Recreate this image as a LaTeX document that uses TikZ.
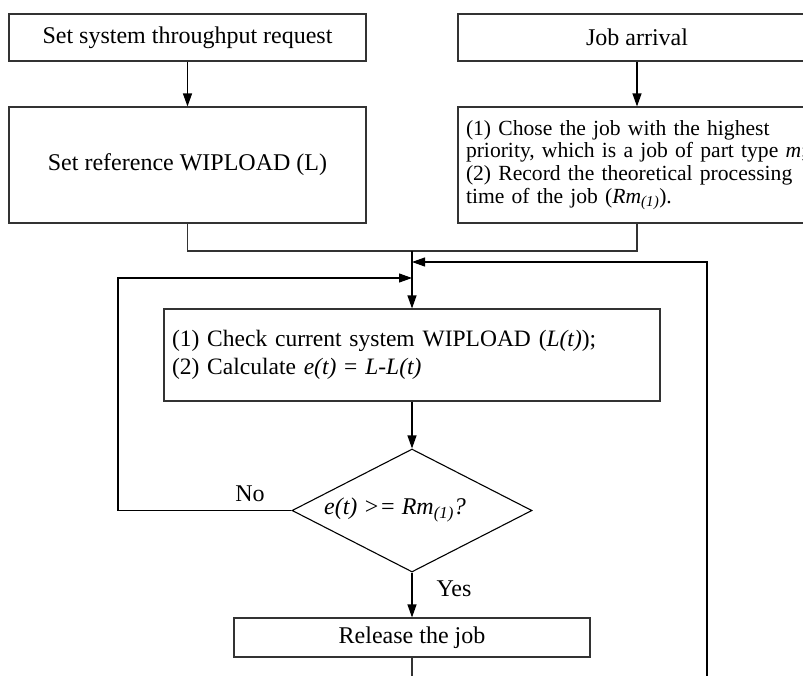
\documentclass[tikz,border=0pt]{standalone}
\usepackage{fontspec}
\setmainfont{Liberation Serif}
\usetikzlibrary{shapes.geometric,arrows.meta}

\begin{document}
\begin{tikzpicture}[x=1pt,y=-1pt,
  box/.style={draw=black!80, line width=1.1pt, rectangle, inner sep=0pt,
    font=\fontsize{24}{29}\selectfont},
  flow/.style={draw=black, line width=1.1pt, -{Triangle[length=13pt,width=9pt]}},
  link/.style={draw=black!80, line width=1.1pt},
  lbl/.style={font=\fontsize{24}{29}\selectfont, inner sep=0pt}
]
\useasboundingbox (0,0) rectangle (803,675);
\clip (0,0) rectangle (803,675);

% input boxes
\node[box, minimum width=357pt, minimum height=47pt] (req) at (187.5,37.5)
  {Set system throughput request};
\node[box, minimum width=357pt, minimum height=116pt] (ref) at (187.5,165)
  {Set reference WIPLOAD (L)};
\node[box, minimum width=358pt, minimum height=47pt] (arr) at (637,37.5)
  {Job arrival};
\node[box, minimum width=358pt, minimum height=116pt, text width=342pt,
  align=left, inner xsep=8pt, font=\fontsize{21.6}{22.6}\selectfont] (pick) at (637,165)
  {\mbox{(1) Chose the job with the highest}\\
   \mbox{priority, which is a job of part type \textit{m};}\\
   \mbox{(2) Record the theoretical processing}\\
   \mbox{time of the job (\textit{Rm}\textsubscript{\textit{(1)}}).}};

% control loop
\node[box, minimum width=496pt, minimum height=92pt, text width=480pt,
  align=left, inner xsep=8pt, font=\fontsize{23.5}{28}\selectfont] (check) at (412,355)
  {(1) Check current system WIPLOAD (\textit{L(t)});\\
   (2) Calculate \textit{e(t)} = \textit{L-L(t)}};
\node[draw=black, line width=1.1pt, diamond, minimum width=240pt,
  minimum height=123pt, inner sep=0pt] (test) at (412,510.5) {};
\node[lbl] (testtxt) at (395,510)
  {\textit{e(t) >= Rm}\textsubscript{\textit{(1)}}\textit{?}};
\node[box, minimum width=356pt, minimum height=39pt] (rel) at (412,637.5)
  {Release the job};

\node[lbl] (no) at (250,494) {No};
\node[lbl] (yes) at (454,589) {Yes};

% junction points
\coordinate (merge) at (412,251);
\coordinate (fb) at (412,262);
\coordinate (lp) at (412,278);
\coordinate (fbR) at (707,262);
\coordinate (fbB) at (707,700);
\coordinate (lpT) at (118,278);
\coordinate (out) at (412,700);

% connectors
\draw[flow] (req) -- (ref);
\draw[flow] (arr) -- (pick);
\draw[link] (ref.south) |- (merge) -| (pick.south);
\draw[flow] (merge) -- (check);
\draw[flow] (fbB) -- (fbR) -- (fb);
\draw[flow] (test.west) -| (lpT) -- (lp);
\draw[flow] (check) -- (test);
\draw[flow] (test) -- (rel);
\draw[link] (rel) -- (out);
\end{tikzpicture}
\end{document}
